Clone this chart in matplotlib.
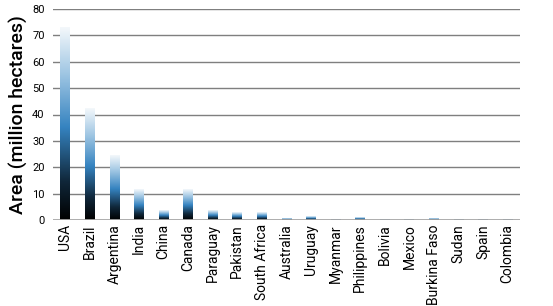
import matplotlib.pyplot as plt
import numpy as np
from matplotlib.colors import LinearSegmentedColormap

countries = ['USA', 'Brazil', 'Argentina', 'India', 'China', 'Canada', 'Paraguay',
             'Pakistan', 'South Africa', 'Australia', 'Uruguay', 'Myanmar',
             'Philippines', 'Bolivia', 'Mexico', 'Burkina Faso', 'Sudan', 'Spain',
             'Colombia']
area = [73.1, 42.2, 24.3, 11.6, 3.7, 11.6, 3.6, 2.9, 2.7, 0.5, 1.3, 0.3,
        0.8, 0.1, 0.1, 0.5, 0.1, 0.1, 0.1]
yticks = [0, 10, 20, 30, 40, 50, 60, 70, 80]

plt.rcParams['font.family'] = ['Roboto', 'DejaVu Sans']

cmap = LinearSegmentedColormap.from_list(
    'bar', [(0, '#000000'), (0.2, '#10273a'), (0.48, '#3583c0'), (0.75, '#9cc4e2'), (1, '#f4f8fb')])
grad = np.linspace(0, 1, 256).reshape(-1, 1)

fig = plt.figure(figsize=(5.53, 3.06), dpi=100)
ax = fig.add_axes([53 / 553, 1 - 220 / 306, 467 / 553, 211 / 306])

x = np.arange(len(countries))
w = 0.4
bars = ax.bar(x, area, width=w, color='none', zorder=3)
for b in bars:
    x0, y0 = b.get_x(), b.get_y()
    ax.imshow(grad, cmap=cmap, origin='lower', aspect='auto',
              extent=[x0, x0 + b.get_width(), y0, y0 + b.get_height()], zorder=3)

ax.set_xlim(-0.5, len(countries) - 0.5)
ax.set_ylim(0, 80)
ax.set_yticks(yticks)
ax.set_xticks(x)
ax.set_xticklabels(countries, rotation=90, fontsize=10)
ax.tick_params(axis='y', labelsize=8, length=0, pad=6)
ax.tick_params(axis='x', length=0, pad=3)
for v in yticks[1:]:
    ax.axhline(v, color='#7f7f7f', lw=1, zorder=1)
ax.axhline(0, color='#a6a6a6', lw=2, zorder=4)
for s in ax.spines.values():
    s.set_visible(False)
ax.set_ylabel('Area (million hectares)', fontsize=14, fontweight='medium', labelpad=3)

fig.savefig('out.png', dpi=100)
